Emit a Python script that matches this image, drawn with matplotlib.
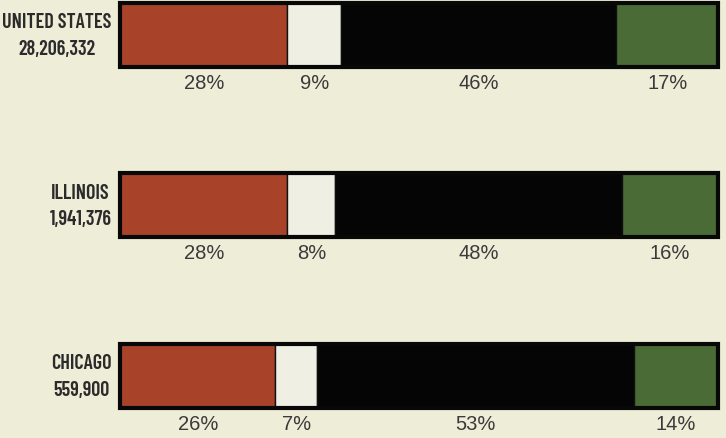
import matplotlib.pyplot as plt

# data
regions = ['UNITED STATES', 'ILLINOIS', 'CHICAGO']
totals = ['28,206,332', '1,941,376', '559,900']
share_red = [28, 28, 26]
share_white = [9, 8, 7]
share_black = [46, 48, 53]
share_green = [17, 16, 14]

colors = ['#a8432a', '#efefe4', '#050505', '#4a6a36']
bg = '#eeedd8'
label_font = ['Barlow Condensed', 'DejaVu Sans']
pct_font = ['Liberation Sans', 'DejaVu Sans']

fig = plt.figure(figsize=(7.26, 4.38), dpi=100, facecolor=bg)
ax = fig.add_axes([120 / 726, 0, 598 / 726, 1])
ax.set_facecolor(bg)

spacing = 170.5
ax.set_xlim(0, 100)
ax.set_ylim((438 - 35) / spacing, -35 / spacing)
ax.axis('off')

ypos = list(range(len(regions)))
h = 64 / spacing
series = [share_red, share_white, share_black, share_green]

left = [0] * len(regions)
for vals, c in zip(series, colors):
    ax.barh(ypos, vals, left=left, height=h, color=c, edgecolor='#111111',
            linewidth=1.0, zorder=2)
    for i, v in enumerate(vals):
        ax.text(left[i] + v / 2, i + 48.5 / spacing, f'{v}%', ha='center',
                va='center', fontsize=14.5, color='#3a3a3a', family=pct_font)
    left = [l + v for l, v in zip(left, vals)]

# outer frame
ax.barh(ypos, left, height=h, fill=False, edgecolor='#080808',
        linewidth=3.0, zorder=3, clip_on=False)

for i, (name, tot) in enumerate(zip(regions, totals)):
    ax.text(-1.4, i + 1 / spacing, f'{name}\n{tot}', ha='right', va='center',
            multialignment='center', linespacing=1.5,
            fontsize=14.5, fontweight='semibold', color='#2b2b2b',
            family=label_font)

fig.savefig('out.png', dpi=100, facecolor=bg)
